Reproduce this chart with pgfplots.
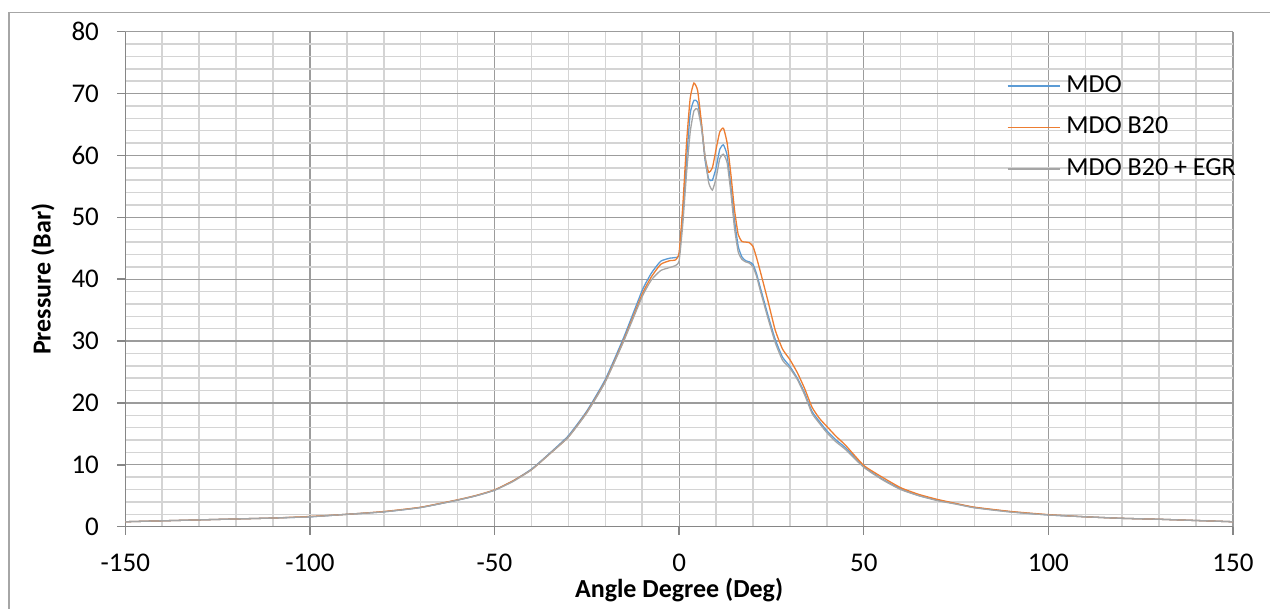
\documentclass[border=0pt]{standalone}
\usepackage{fontspec}
\setmainfont{Carlito}
\usepackage{pgfplots}
\pgfplotsset{compat=1.18}
\definecolor{sBlue}{HTML}{5B9BD5}
\definecolor{sOrange}{HTML}{ED7D31}
\definecolor{sGray}{HTML}{A5A5A5}
\definecolor{majGrid}{HTML}{9C9C9C}
\definecolor{minGrid}{HTML}{D4D4D4}
\definecolor{axGray}{HTML}{868686}
\begin{document}
\begin{tikzpicture}
\useasboundingbox (0,0) rectangle (635pt,304.5pt);
\draw[color=black!35, line width=0.6pt] (4.5pt,0) -- (4.5pt,298.15pt) -- (640pt,298.15pt);
\begin{axis}[
  at={(62.65pt,41.15pt)}, anchor=south west,
  scale only axis, width=553.85pt, height=247.5pt,
  xmin=-150, xmax=150, ymin=0, ymax=80,
  xtick={-150,-100,...,150}, ytick={0,10,...,80},
  minor x tick num=4, minor y tick num=4,
  grid=both,
  major grid style={color=majGrid, line width=0.6pt},
  minor grid style={color=minGrid, line width=0.75pt},
  axis lines=left,
  axis line style={-, color=axGray, line width=0.7pt},
  tick align=outside, major tick length=4pt, minor tick length=0pt,
  tick style={color=axGray, line width=0.7pt},
  /pgf/number format/assume math mode=true,
  ticklabel style={font=\fontsize{13.5}{16}\selectfont},
  xticklabel style={anchor=center},
  xticklabel shift=14pt,
  yticklabel style={anchor=east, inner sep=0pt},
  yticklabel shift=9pt,
  xlabel={\textbf{Angle Degree (Deg)}},
  ylabel={\textbf{Pressure (Bar)}},
  label style={font=\fontsize{13}{15}\selectfont},
  xlabel style={at={(axis description cs:0.5,-0.1279)}, anchor=center},
  ylabel style={at={(axis description cs:-0.0743,0.5)}, anchor=center},
  legend style={at={(axis description cs:0.79,0.9226)}, anchor=north west,
    draw=none, fill=none, font=\fontsize{13}{15}\selectfont,
    nodes={inner sep=0pt, text height=9pt, text depth=2.5pt},
    row sep=9.25pt, column sep=3pt},
  legend cell align=left,
  legend image code/.code={\draw[#1, line width=0.8pt] (0pt,0pt) -- (26pt,0pt);},
  every axis plot/.append style={line width=0.65pt, smooth, tension=0.3},
]
\addplot[color=sBlue] coordinates {
(-150,0.8) (-140,0.95) (-130,1.1) (-120,1.25) (-110,1.4) (-100,1.6) (-90,2.0) (-80,2.4) (-70,3.1) (-60,4.3) (-55,5.0) (-50,5.9) (-45,7.4) (-40,9.3) (-35,11.9) (-30,14.7) (-25,18.7) (-20,23.8) (-15,30.6) (-10,38.2) (-7.5,41.0) (-5,42.9) (-2.5,43.4) (-1,43.5) (0,44.0) (1,50.5) (2,59.3) (3,66.8) (4,68.9) (5,68.6) (6,65.2) (7,59.3) (8,56.2) (9,56.0) (10,58.0) (11,61.0) (12,61.7) (13,60.0) (14,55.0) (15,49.5) (16,45.3) (17,43.6) (18,43.0) (19,42.8) (20,42.4) (21,40.8) (22,38.6) (24,34.3) (26,30.3) (28,27.4) (30,25.9) (32,24.0) (34,21.6) (36,18.6) (38,17.0) (40,15.5) (42.5,14.0) (45,12.8) (50,9.7) (55,7.7) (60,6.1) (65,5.0) (70,4.3) (75,3.7) (80,3.1) (90,2.4) (100,1.9) (110,1.6) (120,1.35) (130,1.2) (140,1.0) (150,0.8)
};
\addlegendentry{MDO}
\addplot[color=sOrange] coordinates {
(-150,0.8) (-140,0.95) (-130,1.1) (-120,1.25) (-110,1.4) (-100,1.65) (-90,2.0) (-80,2.45) (-70,3.15) (-60,4.35) (-55,5.05) (-50,5.95) (-45,7.4) (-40,9.2) (-35,11.8) (-30,14.5) (-25,18.5) (-20,23.5) (-15,30.2) (-10,37.6) (-7.5,40.4) (-5,42.4) (-2.5,43.0) (-1,43.1) (0,44.3) (1,52.0) (2,62.0) (3,69.3) (4,71.7) (5,70.5) (6,65.5) (7,59.8) (8,57.3) (9,58.0) (10,61.0) (11,63.8) (12,64.4) (13,62.0) (14,57.0) (15,51.2) (16,47.2) (17,46.1) (18,46.0) (19,45.9) (20,45.3) (21,43.4) (22,41.2) (24,36.6) (26,31.8) (28,28.7) (30,27.0) (32,24.9) (34,22.3) (36,19.3) (38,17.5) (40,16.2) (42.5,14.6) (45,13.2) (50,9.9) (55,8.0) (60,6.3) (65,5.2) (70,4.4) (75,3.75) (80,3.15) (90,2.45) (100,1.95) (110,1.6) (120,1.35) (130,1.2) (140,1.0) (150,0.8)
};
\addlegendentry{MDO B20}
\addplot[color=sGray] coordinates {
(-150,0.8) (-140,0.95) (-130,1.1) (-120,1.25) (-110,1.4) (-100,1.6) (-90,2.0) (-80,2.4) (-70,3.1) (-60,4.3) (-55,5.0) (-50,5.9) (-45,7.3) (-40,9.2) (-35,11.8) (-30,14.5) (-25,18.4) (-20,23.4) (-15,30.0) (-10,37.2) (-7.5,39.9) (-5,41.4) (-2.5,41.9) (-1,42.2) (0,43.0) (1,49.0) (2,57.1) (3,63.8) (4,67.2) (5,67.5) (6,64.6) (7,60.0) (8,55.6) (9,54.4) (10,56.3) (11,59.5) (12,60.2) (13,58.8) (14,54.0) (15,48.2) (16,44.4) (17,43.2) (18,42.8) (19,42.6) (20,42.0) (21,40.4) (22,38.1) (24,33.8) (26,29.8) (28,26.9) (30,25.6) (32,23.8) (34,21.3) (36,18.3) (38,16.7) (40,15.2) (42.5,13.7) (45,12.5) (50,9.6) (55,7.6) (60,6.0) (65,5.0) (70,4.2) (75,3.65) (80,3.05) (90,2.35) (100,1.9) (110,1.6) (120,1.35) (130,1.2) (140,1.0) (150,0.8)
};
\addlegendentry{MDO B20 + EGR}
\end{axis}
\end{tikzpicture}
\end{document}
